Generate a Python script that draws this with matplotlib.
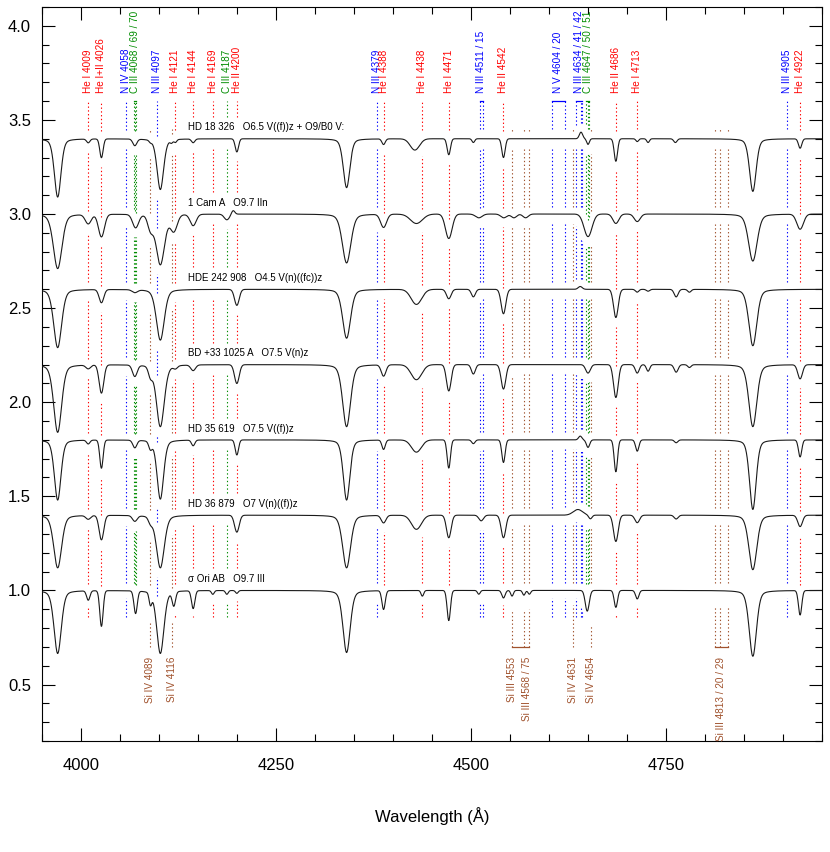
import numpy as np
import matplotlib
matplotlib.use('Agg')
import matplotlib.pyplot as plt
from matplotlib.ticker import MultipleLocator

plt.rcParams['font.family'] = ['Liberation Sans', 'DejaVu Sans']

# Yıldızlar, tayf türleri ve dikey kaydırmalar
star_names = ['HD 18 326', '1 Cam A', 'HDE 242 908', 'BD +33 1025 A',
              'HD 35 619', 'HD 36 879', 'σ Ori AB']
star_types = ['O6.5 V((f))z + O9/B0 V:', 'O9.7 IIn', 'O4.5 V(n)((fc))z',
              'O7.5 V(n)z', 'O7.5 V((f))z', 'O7 V(n)((f))z', 'O9.7 III']
offsets = [3.4, 3.0, 2.6, 2.2, 1.8, 1.4, 1.0]

# Balmer çizgileri (He, Hd, Hg, Hb): derinlik ve genişlik (Å)
balmer_waves = [3970.1, 4101.7, 4340.5, 4861.3]
balmer_depth = [
    [0.31, 0.27, 0.26, 0.28],
    [0.29, 0.27, 0.26, 0.25],
    [0.31, 0.27, 0.26, 0.30],
    [0.36, 0.33, 0.33, 0.33],
    [0.32, 0.315, 0.32, 0.37],
    [0.28, 0.28, 0.28, 0.29],
    [0.335, 0.335, 0.33, 0.35],
]
balmer_width = [10, 13, 12, 12, 10, 12, 11]

# Diğer çizgiler: (dalga boyu, derinlik, FWHM); negatif derinlik = salma
star_lines = [
    [(4009.3, 0.02, 5), (4026.2, 0.10, 5), (4069.0, 0.035, 6), (4089.0, 0.01, 4),
     (4116.0, 0.015, 4), (4121.0, 0.015, 4), (4143.8, 0.02, 5), (4199.8, 0.07, 5),
     (4387.9, 0.03, 5), (4428.0, 0.06, 14), (4471.5, 0.085, 5), (4503.0, 0.02, 4),
     (4541.6, 0.10, 5), (4641.0, -0.035, 5), (4650.0, 0.03, 4), (4685.7, 0.12, 5),
     (4713.1, 0.015, 4), (4727.0, 0.02, 4), (4762.0, 0.02, 5), (4921.9, 0.05, 5)],
    [(4009.3, 0.05, 9), (4026.2, 0.12, 9), (4070.0, 0.07, 9), (4089.0, 0.07, 8),
     (4119.0, 0.085, 10), (4143.8, 0.06, 9), (4187.0, 0.03, 8), (4195.0, -0.02, 5),
     (4387.9, 0.07, 9), (4430.0, 0.05, 18), (4471.5, 0.13, 10), (4510.0, 0.02, 10),
     (4542.0, 0.02, 9), (4555.0, 0.02, 8), (4570.0, 0.02, 8), (4650.0, 0.12, 12),
     (4685.7, 0.05, 9), (4713.1, 0.04, 9), (4921.9, 0.08, 10)],
    [(4026.2, 0.07, 7), (4069.0, 0.015, 8), (4199.8, 0.085, 7), (4430.0, 0.08, 16),
     (4471.5, 0.05, 7), (4503.0, 0.04, 6), (4541.6, 0.13, 7), (4640.0, -0.015, 6),
     (4685.7, 0.15, 7), (4713.0, 0.015, 5), (4727.0, 0.01, 5), (4763.0, 0.04, 6),
     (4780.0, 0.015, 5)],
    [(4009.3, 0.02, 7), (4026.2, 0.15, 7), (4069.0, 0.06, 7), (4089.0, 0.05, 6),
     (4121.0, 0.015, 6), (4143.8, 0.03, 7), (4199.8, 0.10, 7), (4387.9, 0.06, 7),
     (4430.0, 0.08, 16), (4471.5, 0.14, 7), (4503.0, 0.05, 6), (4541.6, 0.13, 7),
     (4650.0, 0.045, 7), (4685.7, 0.175, 7), (4713.1, 0.045, 6), (4727.0, 0.035, 5),
     (4763.0, 0.04, 6), (4780.0, 0.015, 5), (4921.9, 0.075, 7)],
    [(4009.3, 0.02, 5), (4026.2, 0.15, 5), (4069.0, 0.04, 6), (4089.0, 0.04, 5),
     (4143.8, 0.03, 5), (4199.8, 0.08, 5), (4387.9, 0.05, 5), (4430.0, 0.065, 15),
     (4471.5, 0.15, 5), (4503.0, 0.02, 5), (4541.6, 0.12, 5), (4640.0, -0.02, 5),
     (4650.0, 0.04, 5), (4685.7, 0.17, 5), (4713.1, 0.06, 5), (4763.0, 0.015, 5),
     (4921.9, 0.09, 5)],
    [(4009.3, 0.02, 7), (4026.2, 0.13, 7), (4069.0, 0.03, 7), (4089.0, 0.03, 6),
     (4199.8, 0.09, 7), (4387.9, 0.04, 7), (4430.0, 0.075, 15), (4471.5, 0.12, 7),
     (4513.0, 0.03, 7), (4541.6, 0.12, 7), (4637.0, -0.03, 14), (4653.0, 0.02, 5),
     (4685.7, 0.14, 7), (4713.1, 0.04, 7), (4763.0, 0.02, 6), (4921.9, 0.06, 7)],
    [(4009.3, 0.05, 5), (4026.2, 0.19, 5), (4070.0, 0.12, 5), (4089.0, 0.06, 4),
     (4119.0, 0.075, 5), (4143.8, 0.095, 5), (4169.0, 0.02, 4), (4187.0, 0.02, 4),
     (4199.8, 0.015, 4), (4387.9, 0.10, 5), (4437.6, 0.03, 4), (4471.5, 0.16, 5),
     (4510.0, 0.02, 4), (4541.6, 0.04, 5), (4552.6, 0.03, 4), (4567.8, 0.025, 4),
     (4574.8, 0.02, 4), (4649.0, 0.11, 6), (4685.7, 0.09, 5), (4713.1, 0.045, 5),
     (4921.9, 0.13, 5)],
]

# Üstteki çizgi tanımları
top_labels = ['He I 4009', 'He I+II 4026', 'N IV 4058', 'C III 4068 / 69 / 70', 'N III 4097',
              'He I 4121', 'He I 4144', 'He I 4169', 'C III 4187', 'He II 4200',
              'N III 4379', 'He I 4388', 'He I 4438', 'He I 4471', 'N III 4511 / 15',
              'He II 4542', 'N V 4604 / 20', 'N III 4634 / 41 / 42', 'C III 4647 / 50 / 51',
              'He II 4686', 'He I 4713', 'N III 4905', 'He I 4922']
top_waves = [[4009.3], [4026.2], [4057.8], [4067.9, 4068.9, 4070.3], [4097.3],
             [4120.8], [4143.8], [4169.0], [4186.9], [4199.8],
             [4379.1], [4387.9], [4437.6], [4471.5], [4510.9, 4514.9],
             [4541.6], [4603.7, 4619.9], [4634.1, 4640.6, 4641.9], [4647.4, 4650.3, 4651.5],
             [4685.7], [4713.1], [4904.8], [4921.9]]
top_elements = ['He', 'He', 'N', 'C', 'N', 'He', 'He', 'He', 'C', 'He',
                'N', 'He', 'He', 'He', 'N', 'He', 'N', 'N', 'C', 'He', 'He', 'N', 'He']

# Alttaki Si çizgileri
si_labels = ['Si IV 4089', 'Si IV 4116', 'Si III 4553', 'Si III 4568 / 75',
             'Si IV 4631', 'Si IV 4654', 'Si III 4813 / 20 / 29']
si_waves = [[4088.9], [4116.1], [4552.6], [4567.8, 4574.8],
            [4631.2], [4654.1], [4813.3, 4819.7, 4828.9]]
si_brackets = [[4552.6, 4574.8], [4813.3, 4828.9]]

colors = {'He': '#ff0000', 'N': '#0000ff', 'C': '#008c00', 'Si': '#a0522d'}

wave = np.arange(3950.0, 4950.5, 0.5)


def make_spectrum(k):
    flux = np.full_like(wave, offsets[k])
    hw = 0.5 * balmer_width[k]
    for w0, d in zip(balmer_waves, balmer_depth[k]):
        gauss = np.exp(-np.log(2) * ((wave - w0) / hw) ** 2)
        lor = 1 / (1 + ((wave - w0) / hw) ** 2)
        flux -= d * (0.7 * gauss + 0.3 * lor)
    for w0, d, fw in star_lines[k]:
        flux -= d * np.exp(-4 * np.log(2) * ((wave - w0) / fw) ** 2)
    return flux


spectra = [make_spectrum(k) for k in range(len(offsets))]

fig = plt.figure(figsize=(8.3, 8.52), dpi=100)
ax = fig.add_axes([0.0506, 0.1303, 0.9398, 0.8615])
ax.set_xlim(3950, 4950)
ax.set_ylim(0.2, 4.1)

for flux in spectra:
    ax.plot(wave, flux, color='#1a1a1a', lw=0.8, zorder=3)

label_texts = []
for k in range(len(offsets)):
    t = ax.text(4137, offsets[k] + 0.06, star_names[k] + '   ' + star_types[k],
                fontsize=7.0, va='center', ha='left', zorder=4)
    label_texts.append(t)

fig.canvas.draw()
inv = ax.transData.inverted()
label_box = []
for t in label_texts:
    bb = t.get_window_extent()
    (x0, y0), (x1, y1) = inv.transform([(bb.x0, bb.y0), (bb.x1, bb.y1)])
    label_box.append((x0, x1, y1))

dot = (0, (1.2, 2.2))
win = 5.0


def fmin(k, w0):
    m = np.abs(wave - w0) <= win
    return spectra[k][m].min()


def fmax(k, w0):
    m = np.abs(wave - w0) <= win
    return spectra[k][m].max()


def draw_marker(w0, col, is_si):
    n = len(offsets)
    # en üst boşluk
    lo = fmax(0, w0) + (0.04 if is_si else 0.05)
    x0, x1, ytop = label_box[0]
    if x0 - 2 <= w0 <= x1 + 2 and not is_si:
        lo = ytop + 0.03
    hi = 3.45 if is_si else 3.60
    if hi > lo:
        ax.plot([w0, w0], [lo, hi], color=col, lw=0.8, ls=dot, zorder=2)
    # yıldızlar arası boşluklar
    for k in range(1, n):
        hi = fmin(k - 1, w0) - 0.05
        lo = fmax(k, w0) + 0.04
        x0, x1, ytop = label_box[k]
        if x0 - 2 <= w0 <= x1 + 2:
            lo = max(lo, ytop + 0.03)
        if hi > lo:
            ax.plot([w0, w0], [lo, hi], color=col, lw=0.8, ls=dot, zorder=2)
    # en alt boşluk
    hi = fmin(n - 1, w0) - (0.08 if is_si else 0.04)
    lo = 0.70 if is_si else 0.86
    if hi > lo:
        ax.plot([w0, w0], [lo, hi], color=col, lw=0.8, ls=dot, zorder=2)


for lab, ws, el in zip(top_labels, top_waves, top_elements):
    col = colors[el]
    for w0 in ws:
        draw_marker(w0, col, False)
    if len(ws) > 1:
        ax.plot([min(ws), max(ws)], [3.60, 3.60], color=col, lw=0.9, zorder=2)
    ax.text(np.mean(ws), 3.645, lab, rotation=90, color=col, fontsize=7.2,
            ha='center', va='bottom')

for lab, ws in zip(si_labels, si_waves):
    for w0 in ws:
        draw_marker(w0, colors['Si'], True)
    ax.text(np.mean(ws), 0.648, lab, rotation=90, color=colors['Si'], fontsize=7.2,
            ha='center', va='top')

for b in si_brackets:
    ax.plot(b, [0.70, 0.70], color=colors['Si'], lw=0.9, zorder=2)

ax.xaxis.set_major_locator(MultipleLocator(250))
ax.xaxis.set_minor_locator(MultipleLocator(50))
ax.yaxis.set_major_locator(MultipleLocator(0.5))
ax.yaxis.set_minor_locator(MultipleLocator(0.1))
ax.tick_params(which='both', direction='in', top=True, right=True, width=0.8,
               labelsize=12)
ax.tick_params(which='major', length=9.5)
ax.tick_params(which='minor', length=5)
ax.tick_params(axis='x', which='major', pad=12)
ax.tick_params(axis='y', which='major', pad=8)
for s in ax.spines.values():
    s.set_linewidth(0.8)

ax.set_xlabel('Wavelength (Å)', fontsize=12, labelpad=25)

fig.savefig('out.png', dpi=100)
